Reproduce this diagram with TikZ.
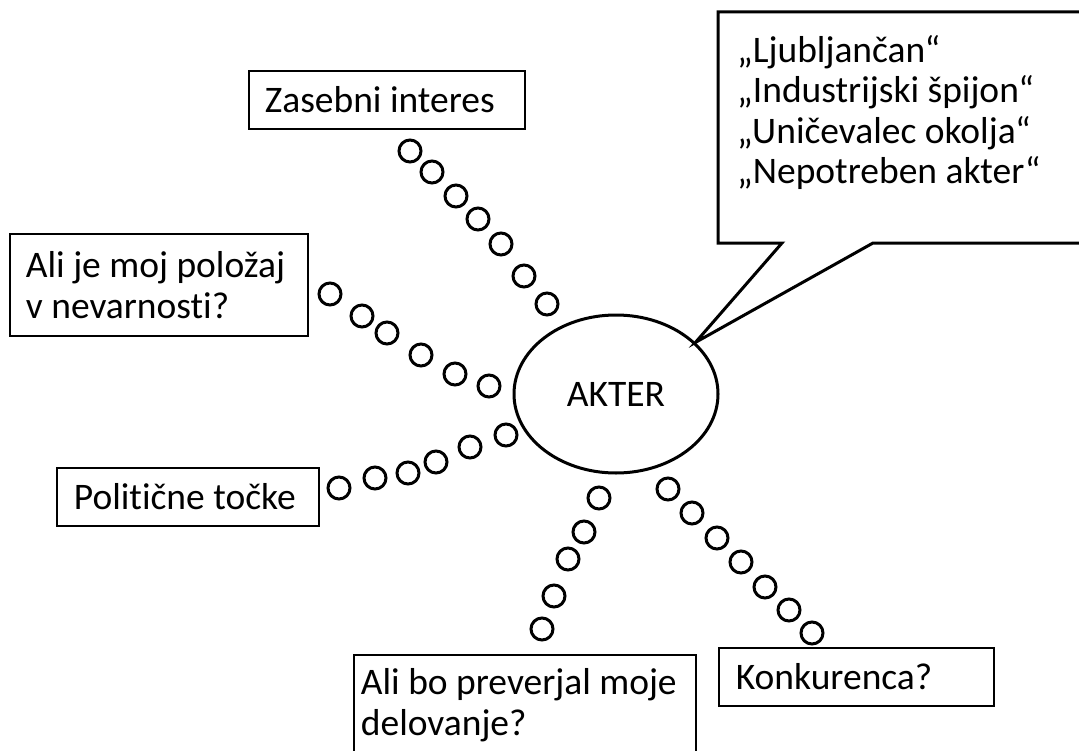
\documentclass[tikz,border=0pt]{standalone}
\usepackage{fontspec}
\setmainfont{Carlito}[Ligatures=NoCommon]
\usetikzlibrary{shapes.geometric}
\begin{document}
\begin{tikzpicture}[x=1bp,y=-1bp,
  txt/.style={font=\fontsize{37.5bp}{40.5bp}\selectfont},
  box/.style={txt, draw, line width=1.8bp, align=flush left, inner ysep=0pt,
    inner xsep=16bp, anchor=north west},
  dot/.style={circle, draw, line width=3bp, minimum size=22bp, inner sep=0pt},
  outline/.style={line width=3bp, line join=miter}]
% page
\fill[white] (0,0) rectangle (1079,751);
\clip (0,0) rectangle (1079,751);

% central actor
\node[ellipse, draw, line width=3bp, minimum width=204bp, minimum height=158bp,
  inner sep=0pt, txt] (akter) at (616,394) {AKTER};

% surrounding questions
\node[box, text width=244bp, minimum height=58bp] (zas) at (248,70) {Zasebni interes};
\node[box, text width=266bp, minimum height=102bp] (pol) at (9,233)
  {Ali je moj položaj\\v nevarnosti?};
\node[box, inner xsep=17bp, text width=228bp, minimum height=58bp] (tock) at (56,467)
  {Politične točke};
\node[box, inner xsep=7bp, inner ysep=14bp, text width=328bp] (prev) at (353,654)
  {Ali bo preverjal moje\\delovanje?};
\node[box, inner xsep=17bp, text width=241bp, minimum height=58bp] (konk) at (718,647)
  {Konkurenca?};

% chains of rings
\foreach \p [count=\i] in {(410,151),(432,172),(456,196),(478,219),(501,244),(524,276),(547,304)}
  \node[dot] (za\i) at \p {};
\foreach \p [count=\i] in {(330,294),(362,316),(387,333),(421,355),(455,374),(489,386)}
  \node[dot] (po\i) at \p {};
\foreach \p [count=\i] in {(339,488),(375,478),(408,473),(436,462),(470,447),(506,435)}
  \node[dot] (to\i) at \p {};
\foreach \p [count=\i] in {(599,498),(584,532),(568,559),(554,596),(542,629)}
  \node[dot] (pr\i) at \p {};
\foreach \p [count=\i] in {(668,489),(692,513),(717,538),(741,562),(765,587),(789,610),(812,633)}
  \node[dot] (ko\i) at \p {};

% speech callout
\coordinate (tip) at (akter.33.4);
\draw[outline] (1095,12) -| (718,243) -- (782,243) -- (tip) -- (873,243) -- (1095,243);
\node[txt, anchor=north west, align=flush left, inner sep=0pt] (quotes) at (737,35)
  {„Ljubljančan“\\„Industrijski špijon“\\„Uničevalec okolja“\\„Nepotreben akter“};
\end{tikzpicture}
\end{document}
